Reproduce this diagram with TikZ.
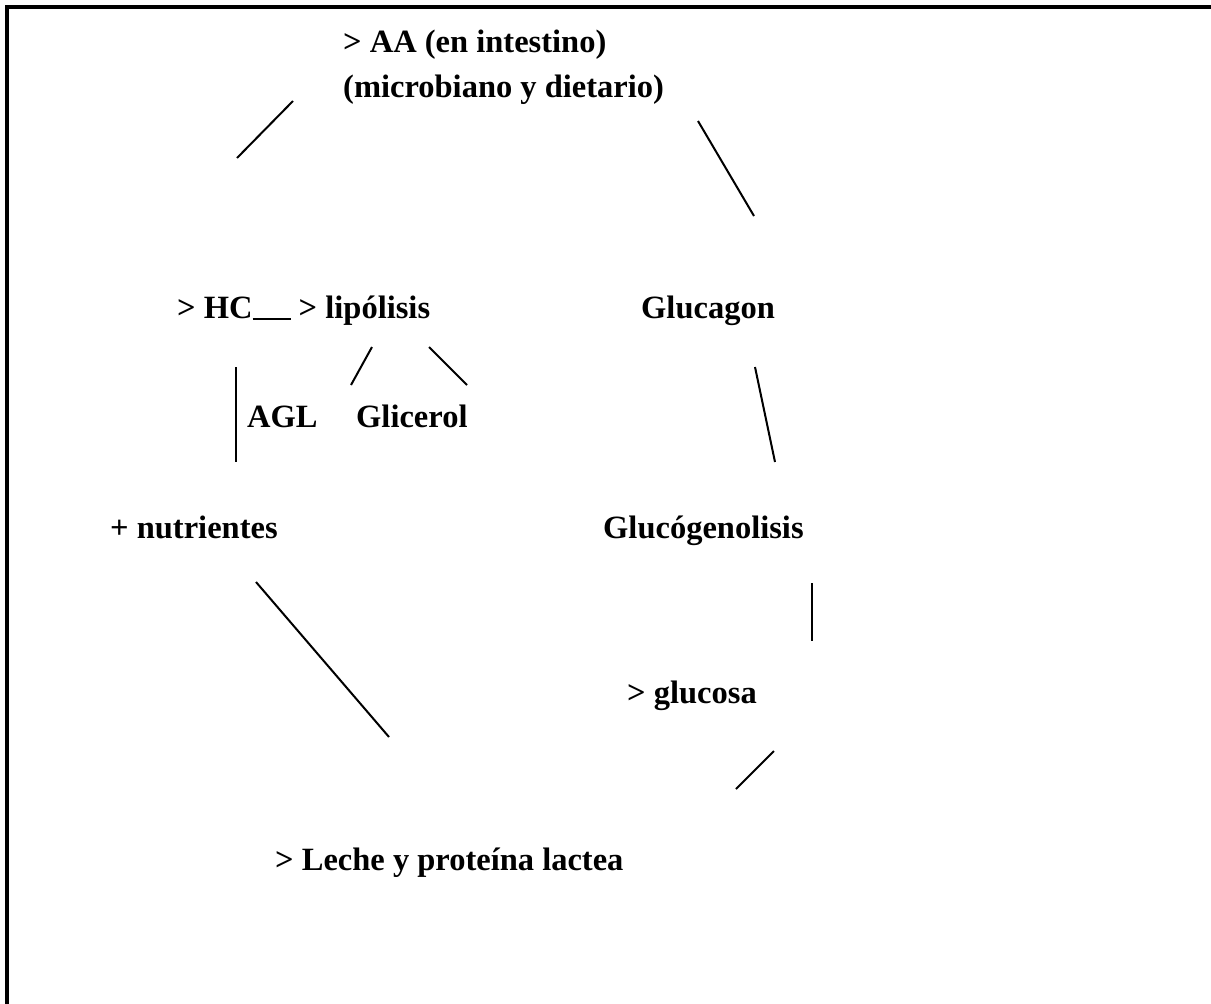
\documentclass[tikz,border=0pt]{standalone}
\usepackage{fontspec}
\setmainfont{Liberation Serif}
\begin{document}
\begin{tikzpicture}[x=1pt,y=-1pt,
  lbl/.style={anchor=base west,inner sep=0pt,font=\fontsize{32.5}{38}\selectfont\bfseries},
  link/.style={line width=2pt,line cap=butt},
  frame/.style={line width=3.2pt}]
\useasboundingbox (0,0) rectangle (1211,1004);
\fill[white] (0,0) rectangle (1211,1004);
% frame (top and left only)
\coordinate (fTR) at (1211,7);
\coordinate (fTL) at (7,7);
\coordinate (fBL) at (7,1004);
\draw[frame] (fTR) -- (fTL) -- (fBL);
% texts
\node[lbl] (aa) at (343,52) {> AA (en intestino)};
\node[lbl] (micro) at (343,97) {(microbiano y dietario)};
\node[lbl] (hc) at (177,318) {> HC\rule[-1.5pt]{38pt}{2pt} > lipólisis};
\node[lbl] (agl) at (247,427) {AGL};
\node[lbl] (glic) at (356,427) {Glicerol};
\node[lbl] (gcg) at (641,318) {Glucagon};
\node[lbl] (nutr) at (110,538) {+ nutrientes};
\node[lbl] (glg) at (603,538) {Glucógenolisis};
\node[lbl] (gluc) at (627,703) {> glucosa};
\node[lbl] (leche) at (275,870) {> Leche y proteína lactea};
% connector ends
\coordinate (a1) at (293,101); \coordinate (a2) at (237,158);
\coordinate (b1) at (698,121); \coordinate (b2) at (754,216);
\coordinate (c1) at (236,367); \coordinate (c2) at (236,462);
\coordinate (d1) at (372,347); \coordinate (d2) at (351,385);
\coordinate (e1) at (429,347); \coordinate (e2) at (467,385);
\coordinate (f1) at (755,367); \coordinate (f2) at (775,462);
\coordinate (g1) at (812,583); \coordinate (g2) at (812,641);
\coordinate (h1) at (256,582); \coordinate (h2) at (389,737);
\coordinate (i1) at (774,751); \coordinate (i2) at (736,789);
\draw[link] (a1) -- (a2);
\draw[link] (b1) -- (b2);
\draw[link] (c1) -- (c2);
\draw[link] (d1) -- (d2);
\draw[link] (e1) -- (e2);
\draw[link] (f1) -- (f2);
\draw[link] (g1) -- (g2);
\draw[link] (h1) -- (h2);
\draw[link] (i1) -- (i2);
\end{tikzpicture}
\end{document}
